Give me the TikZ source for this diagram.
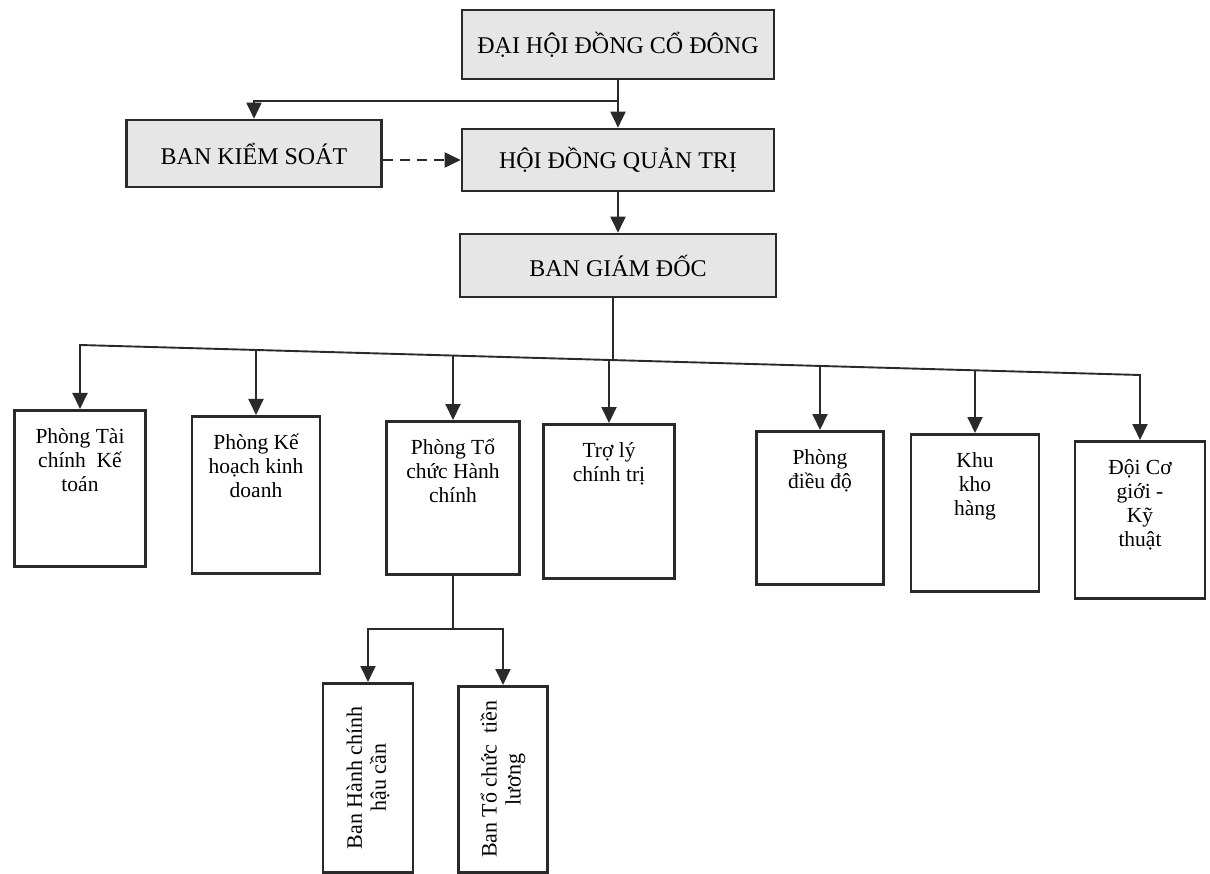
\documentclass[tikz,border=0pt]{standalone}
\usepackage{fontspec}
\setmainfont{Liberation Serif}
\usetikzlibrary{arrows.meta,calc}
\definecolor{edge}{HTML}{2A2A2A}
\definecolor{boxgray}{HTML}{E6E6E6}
\begin{document}
\begin{tikzpicture}[x=1pt,y=-1pt,
  topbox/.style={draw=edge, line width=2.6pt, fill=boxgray, inner sep=0pt, font=\fontsize{24}{28}\selectfont},
  childbox/.style={draw=edge, line width=2.6pt, fill=white, inner sep=0pt, anchor=north},
  childtext/.style={anchor=north, align=center, inner sep=0pt, font=\fontsize{21.5}{24}\selectfont},
  rottext/.style={rotate=90, align=center, inner sep=0pt, font=\fontsize{22}{24}\selectfont},
  conn/.style={draw=edge, line width=1.9pt},
  arr/.style={conn, -{Triangle[length=16pt,width=15pt]}},
  dasharr/.style={arr, dash pattern=on 10pt off 7pt}
  ]
\useasboundingbox (0,0) rectangle (1210,874);

% top level boxes
\node[topbox, minimum width=312pt, minimum height=69pt] (dh) at (618,44.5) {ĐẠI HỘI ĐỒNG CỔ ĐÔNG};
\node[topbox, minimum width=255pt, minimum height=67pt] (bks) at (254,153.5) {BAN KIỂM SOÁT};
\node[topbox, minimum width=312pt, minimum height=62pt] (hd) at (618,160) {HỘI ĐỒNG QUẢN TRỊ};
\node[topbox, minimum width=316pt, minimum height=63pt] (bgd) at (618,265.5) {BAN GIÁM ĐỐC};

% upper connectors
\coordinate (br) at (618,101);
\draw[arr] (dh.south) -- (hd.north);
\draw[arr] (br) -| (bks.north);
\draw[dasharr] (bks.east |- hd.west) -- (hd.west);
\draw[arr] (hd.south) -- (bgd.north);

% department boxes
\node[childbox, minimum width=131pt, minimum height=156pt] (c1) at (80,409) {};
\node[childbox, minimum width=128pt, minimum height=157pt] (c2) at (256,415) {};
\node[childbox, minimum width=133pt, minimum height=153pt] (c3) at (453,420) {};
\node[childbox, minimum width=131pt, minimum height=154pt] (c4) at (609,423) {};
\node[childbox, minimum width=127pt, minimum height=153pt] (c5) at (820,430) {};
\node[childbox, minimum width=128pt, minimum height=157pt] (c6) at (975,433) {};
\node[childbox, minimum width=130pt, minimum height=157pt] (c7) at (1140,440) {};

\node[childtext] (c1t) at ($(c1.north)+(0,19)$) {Phòng Tài\\chính~ Kế\\toán};
\node[childtext] (c2t) at ($(c2.north)+(0,19)$) {Phòng Kế\\hoạch kinh\\doanh};
\node[childtext] (c3t) at ($(c3.north)+(0,19)$) {Phòng Tổ\\chức Hành\\chính};
\node[childtext] (c4t) at ($(c4.north)+(0,19)$) {Trợ lý\\chính trị};
\node[childtext] (c5t) at ($(c5.north)+(0,19)$) {Phòng\\điều độ};
\node[childtext] (c6t) at ($(c6.north)+(0,19)$) {Khu\\kho\\hàng};
\node[childtext] (c7t) at ($(c7.north)+(0,19)$) {Đội Cơ\\giới -\\Kỹ\\thuật};

% bus
\coordinate (p1) at (80,345);
\coordinate (p2) at (256,350);
\coordinate (p3) at (453,355.6);
\coordinate (p4) at (609,360);
\coordinate (p5) at (820,365.9);
\coordinate (p6) at (975,370.3);
\coordinate (p7) at (1140,375);
\coordinate (q0) at (613,360.1);
\draw[conn] (q0 |- bgd.south) -- (q0);
\draw[conn, line cap=rect] (p1) -- (p7);
\draw[arr] (p1) -- (c1.north);
\draw[arr] (p2) -- (c2.north);
\draw[arr] (p3) -- (c3.north);
\draw[arr] (p4) -- (c4.north);
\draw[arr] (p5) -- (c5.north);
\draw[arr] (p6) -- (c6.north);
\draw[arr] (p7) -- (c7.north);

% sub units
\node[childbox, minimum width=90pt, minimum height=189pt] (d1) at (368,682) {};
\node[childbox, minimum width=89pt, minimum height=186pt] (d2) at (503,685) {};
\node[rottext] (d1t) at (d1.center) {Ban Hành chính\\hậu cần};
\node[rottext] (d2t) at (d2.center) {Ban Tổ chức~ tiền\\lương};

\coordinate (s0) at (453,629);
\coordinate (s1) at (368,629);
\coordinate (s2) at (503,629);
\draw[conn] (c3.south) -- (s0);
\draw[conn, line cap=rect] (s1) -- (s2);
\draw[arr] (s1) -- (d1.north);
\draw[arr] (s2) -- (d2.north);
\end{tikzpicture}
\end{document}
